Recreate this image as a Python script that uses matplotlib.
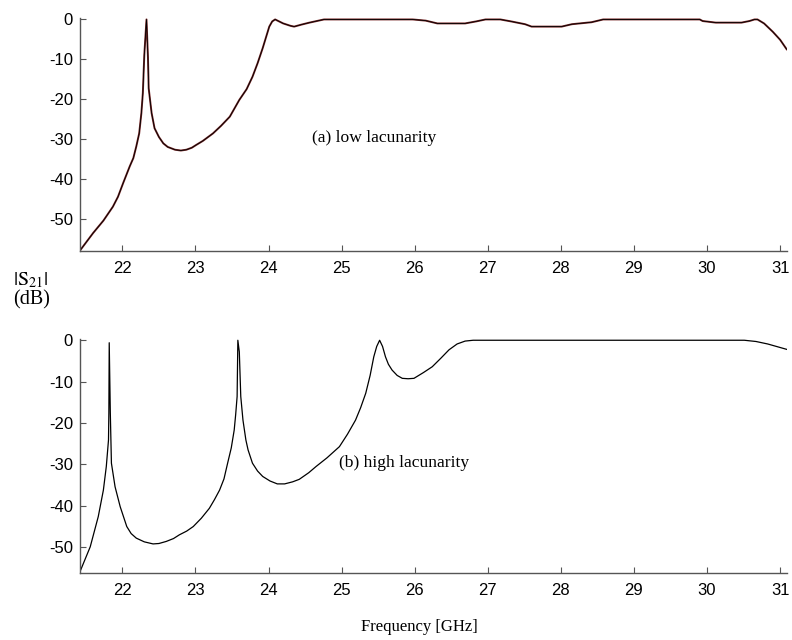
import matplotlib
matplotlib.use('Agg')
import matplotlib.pyplot as plt

# (a) low lacunarity, |S21| in dB
freq_a = [21.42, 21.60, 21.74, 21.87, 21.94, 22.01, 22.10, 22.15, 22.19, 22.23,
          22.26, 22.28, 22.30, 22.33, 22.35, 22.36, 22.40, 22.44, 22.50, 22.56,
          22.62, 22.72, 22.80, 22.875, 22.95, 23.01, 23.10, 23.24, 23.35, 23.47,
          23.60, 23.70, 23.78, 23.85, 23.92, 23.97, 24.01, 24.05, 24.09, 24.20,
          24.30, 24.35, 24.45, 24.56, 24.76, 25.97, 26.15, 26.31, 26.69, 26.84,
          26.97, 27.17, 27.32, 27.51, 27.60, 28.01, 28.15, 28.42, 28.58, 29.90,
          29.94, 30.12, 30.47, 30.58, 30.65, 30.69, 30.78, 30.90, 31.00, 31.09]
s21_a = [-58.0, -53.6, -50.5, -47.0, -44.5, -41.1, -36.9, -34.8, -31.9, -28.6,
         -23.5, -18.5, -8.9, 0.0, -9.5, -17.3, -23.5, -27.3, -29.5, -31.1,
         -32.0, -32.7, -32.9, -32.7, -32.2, -31.5, -30.5, -28.6, -26.7, -24.4,
         -20.2, -17.5, -14.4, -11.0, -7.2, -4.2, -1.8, -0.5, 0.0, -1.0,
         -1.6, -1.8, -1.3, -0.8, 0.0, 0.0, -0.3, -1.0, -1.0, -0.5,
         0.0, 0.0, -0.5, -1.2, -1.8, -1.8, -1.2, -0.7, 0.0, 0.0,
         -0.4, -0.8, -0.8, -0.4, 0.0, 0.0, -1.0, -3.1, -5.1, -7.5]

# (b) high lacunarity
freq_b = [21.42, 21.56, 21.67, 21.74, 21.78, 21.81, 21.815, 21.82, 21.835, 21.85,
          21.90, 21.97, 22.06, 22.12, 22.19, 22.30, 22.42, 22.50, 22.60, 22.70,
          22.78, 22.88, 22.97, 23.08, 23.19, 23.26, 23.33, 23.39, 23.44, 23.49,
          23.53, 23.55, 23.57, 23.58, 23.60, 23.62, 23.65, 23.69, 23.72, 23.78,
          23.85, 23.92, 24.02, 24.12, 24.22, 24.33, 24.42, 24.55, 24.65, 24.80,
          24.97, 25.08, 25.19, 25.26, 25.33, 25.39, 25.44, 25.48, 25.52, 25.56,
          25.60, 25.64, 25.69, 25.76, 25.83, 25.91, 25.99, 26.12, 26.24, 26.36,
          26.47, 26.58, 26.69, 26.80, 30.51, 30.67, 30.83, 31.03, 31.09]
s21_b = [-55.9, -49.9, -42.6, -36.2, -30.5, -24.1, -17.6, -0.6, -17.6, -29.7,
         -35.4, -40.2, -45.0, -46.7, -47.8, -48.7, -49.2, -49.1, -48.6, -47.9,
         -47.0, -46.1, -45.0, -43.0, -40.6, -38.5, -36.2, -33.5, -29.7, -26.0,
         -21.7, -18.0, -13.6, 0.0, -2.8, -13.6, -19.3, -24.1, -26.5, -29.7,
         -31.6, -32.9, -34.0, -34.7, -34.7, -34.2, -33.6, -32.0, -30.5, -28.4,
         -25.7, -22.7, -19.3, -16.3, -12.8, -8.5, -4.0, -1.5, 0.0, -1.5,
         -4.0, -5.8, -7.2, -8.5, -9.2, -9.3, -9.2, -7.8, -6.4, -4.3,
         -2.3, -0.9, -0.2, 0.0, 0.0, -0.3, -0.9, -1.9, -2.2]

x_ticks = [22, 23, 24, 25, 26, 27, 28, 29, 30, 31]
y_ticks = [0, -10, -20, -30, -40, -50]

plt.rcParams['font.family'] = ['Liberation Sans', 'DejaVu Sans']
plt.rcParams['mathtext.fontset'] = 'stix'
plt.rcParams['axes.unicode_minus'] = False

fig = plt.figure(figsize=(7.92, 6.4), dpi=100)
ax_a = fig.add_axes([0.101, 0.6073, 0.8923, 0.3642])
ax_b = fig.add_axes([0.101, 0.1042, 0.8923, 0.3661])


def style_axes(ax, ylow):
    for side in ['top', 'right']:
        ax.spines[side].set_visible(False)
    for side in ['left', 'bottom']:
        ax.spines[side].set_color('#555555')
        ax.spines[side].set_linewidth(1.0)
    ax.set_xlim(21.42, 31.09)
    ax.set_ylim(ylow, 0.3)
    ax.set_xticks(x_ticks)
    ax.set_yticks(y_ticks)
    ax.tick_params(axis='both', direction='in', length=4.5, width=0.8,
                   color='#555555', labelsize=12, labelcolor='black')
    ax.tick_params(axis='x', pad=7)
    ax.tick_params(axis='y', pad=5)


ax_a.plot(freq_a, s21_a, color='#7a2a2a', lw=1.4)
ax_a.plot(freq_a, s21_a, color='black', lw=0.6)
style_axes(ax_a, -58.2)
ax_a.text(25.44, -29.7, '(a) low lacunarity', family='Liberation Serif',
          fontsize=12.6, ha='center', va='center')

ax_b.plot(freq_b, s21_b, color='black', lw=0.9)
style_axes(ax_b, -56.3)
ax_b.text(25.85, -29.6, '(b) high lacunarity', family='Liberation Serif',
          fontsize=12.6, ha='center', va='center')

fig.text(0.016, 0.563, r'$|\mathrm{S}_{21}|$', fontsize=14.5, ha='left', va='center')
fig.text(0.016, 0.531, '(dB)', family='Liberation Serif', fontsize=14.5,
         ha='left', va='center')
fig.text(0.53, 0.02, 'Frequency [GHz]', family='Liberation Serif', fontsize=12,
         ha='center', va='center')

fig.savefig('out.png', dpi=100)
